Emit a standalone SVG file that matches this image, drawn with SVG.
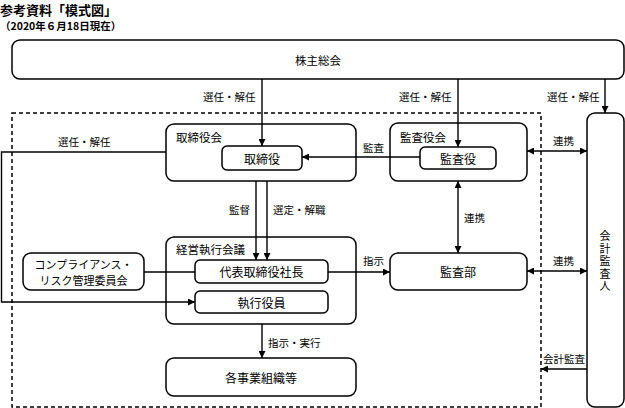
<svg xmlns="http://www.w3.org/2000/svg" width="625" height="408" viewBox="0 0 625 408">
<style>
text{font-family:"Noto Sans CJK JP","Noto Sans",sans-serif;fill:#000}
.box{fill:#fff;stroke:#000;stroke-width:1.5}
.grp{fill:none;stroke:#000;stroke-width:1.5}
.c{text-anchor:middle;dominant-baseline:central;font-size:12px}
.lbl{font-size:10.5px;dominant-baseline:central}
.ttl{font-size:11.5px;dominant-baseline:central}
.ln{fill:none;stroke:#000;stroke-width:1.4}
</style>
<defs>
<marker id="ah" viewBox="0 0 10 10" refX="10" refY="5" markerWidth="7" markerHeight="7" markerUnits="userSpaceOnUse" orient="auto-start-reverse"><path d="M0,0L10,5L0,10z" fill="#000"/></marker>
</defs>
<text x="0" y="14.5" style="font-size:13px;font-weight:bold">参考資料「模式図」</text>
<text x="0" y="29.5" style="font-size:10.5px;font-weight:bold">（2020年６月18日現在）</text>

<rect x="12" y="113" width="529" height="294" fill="none" stroke="#000" stroke-width="1.5" stroke-dasharray="4,3"/>

<g id="shareholders"><rect class="box" x="12" y="40" width="612" height="39" rx="8"/><text class="c" x="318" y="60" style="font-size:11.5px">株主総会</text></g>
<g id="board"><rect class="grp" x="166" y="124" width="190" height="57" rx="8"/><text class="ttl" x="176" y="137">取締役会</text></g>
<g id="directors"><rect class="box" x="222" y="146" width="80" height="24" rx="5"/><text class="c" x="262" y="158">取締役</text></g>
<g id="auditboard"><rect class="grp" x="390" y="123" width="137" height="58" rx="8"/><text class="ttl" x="400" y="137">監査役会</text></g>
<g id="auditors"><rect class="box" x="420" y="147" width="76" height="22" rx="5"/><text class="c" x="458" y="158">監査役</text></g>
<g id="accountant"><rect class="box" x="587" y="113" width="37" height="294" rx="8"/><text x="605" y="230.5" style="writing-mode:vertical-rl;font-size:11px;letter-spacing:1.5px">会計監査人</text></g>
<g id="auditdept"><rect class="box" x="390" y="253" width="137" height="37" rx="8"/><text class="c" x="458" y="271">監査部</text></g>
<g id="mgmt"><rect class="grp" x="166" y="237" width="190" height="87" rx="8"/><text class="ttl" x="176" y="249">経営執行会議</text></g>
<g id="president"><rect class="box" x="195" y="260" width="133" height="23" rx="5"/><text class="c" x="261.5" y="271.5">代表取締役社長</text></g>
<g id="officers"><rect class="box" x="195" y="291" width="133" height="22" rx="5"/><text class="c" x="261.5" y="302">執行役員</text></g>
<g id="business"><rect class="box" x="166" y="358" width="190" height="38" rx="8"/><text class="c" x="261" y="377">各事業組織等</text></g>
<g id="compliance"><rect class="box" x="23" y="253" width="121" height="37" rx="8"/><text class="c" style="font-size:11px"><tspan x="83.5" y="263.5">コンプライアンス・</tspan><tspan x="83.5" y="279.5">リスク管理委員会</tspan></text></g>

<g id="connectors">
<line class="ln" x1="262" y1="79" x2="262" y2="146" marker-end="url(#ah)"/>
<line class="ln" x1="458" y1="79" x2="458" y2="147" marker-end="url(#ah)"/>
<line class="ln" x1="605" y1="79" x2="605" y2="113" marker-end="url(#ah)"/>
<line class="ln" x1="420" y1="157" x2="302" y2="157" marker-end="url(#ah)"/>
<polyline class="ln" points="166,152 1.5,152 1.5,302 195,302" marker-end="url(#ah)"/>
<line class="ln" x1="256" y1="181" x2="256" y2="260" marker-end="url(#ah)"/>
<line class="ln" x1="267" y1="181" x2="267" y2="260" marker-end="url(#ah)"/>
<line class="ln" x1="144" y1="272" x2="195" y2="272"/>
<line class="ln" x1="328" y1="272" x2="390" y2="272" marker-end="url(#ah)"/>
<line class="ln" x1="458" y1="181" x2="458" y2="253" marker-start="url(#ah)" marker-end="url(#ah)"/>
<line class="ln" x1="527" y1="151" x2="587" y2="151" marker-start="url(#ah)" marker-end="url(#ah)"/>
<line class="ln" x1="527" y1="271" x2="587" y2="271" marker-start="url(#ah)" marker-end="url(#ah)"/>
<line class="ln" x1="587" y1="369" x2="541" y2="369" marker-end="url(#ah)"/>
<line class="ln" x1="262" y1="324" x2="262" y2="358" marker-end="url(#ah)"/>
<text class="lbl" x="203" y="96">選任・解任</text>
<text class="lbl" x="399" y="96">選任・解任</text>
<text class="lbl" x="547" y="96">選任・解任</text>
<text class="lbl" x="363" y="147">監査</text>
<text class="lbl" x="58" y="141">選任・解任</text>
<text class="lbl" x="229" y="209">監督</text>
<text class="lbl" x="273" y="209">選定・解職</text>
<text class="lbl" x="464" y="217">連携</text>
<text class="lbl" x="553" y="140">連携</text>
<text class="lbl" x="363" y="260">指示</text>
<text class="lbl" x="553" y="260">連携</text>
<text class="lbl" x="268" y="342">指示・実行</text>
<text class="lbl" x="543" y="358">会計監査</text>
</g>
</svg>
